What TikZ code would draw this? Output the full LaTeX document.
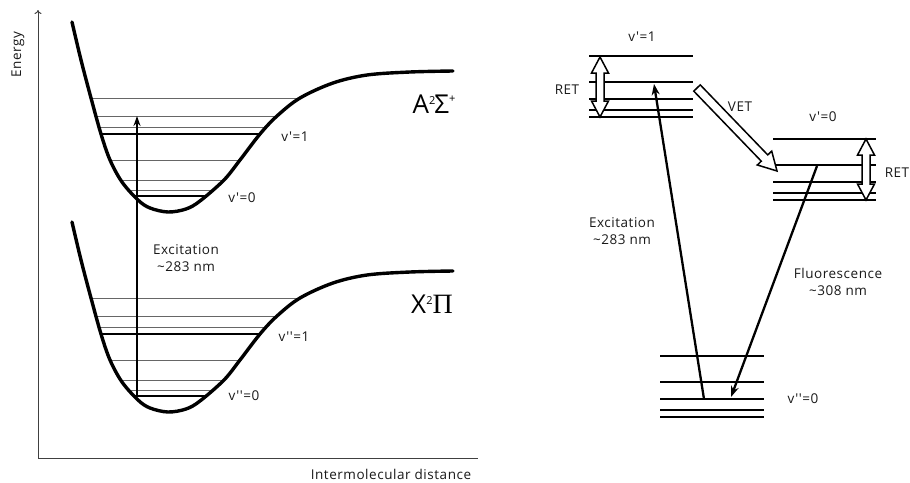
\documentclass[tikz,border=0pt]{standalone}
\usepackage{fontspec}
\setmainfont{Open Sans}[Ligatures=TeXOff, LetterSpace=4]
\newfontfamily\serifgr{Liberation Serif}
\usetikzlibrary{calc,arrows.meta}
\begin{document}
\begin{tikzpicture}[x=1pt,y=-1pt,
  pot/.style={line width=3.4pt, line join=round, line cap=round},
  thinlvl/.style={line width=0.9pt, black!60},
  thicklvl/.style={line width=2.4pt, black},
  lvl/.style={line width=2.4pt, black},
  axis/.style={line width=1pt, black!75},
  trans/.style={line width=2.3pt, -{Stealth[length=11pt,width=8pt]}},
  hollow/.style={draw, line width=1.5pt, fill=white, line join=miter},
  lab/.style={font=\fontsize{13.5}{17}\selectfont, text=black!90, inner sep=0pt, align=center},
  biglab/.style={font=\fontsize{26}{30}\selectfont, text=black, inner sep=0pt}]
\useasboundingbox (0,0) rectangle (910,482);
\def\wellpts{(72,22) (81,60) (91,98) (101,134) (110,160) (122,182) (138,200) (150,208) (168,212) (186,209) (200,201) (224,180) (240,160) (260,134) (277,116) (300,98) (333,83) (367,75) (410,72) (453,71)}

% axes
\coordinate (org) at (38,458);
\coordinate (ytop) at (38,10);
\coordinate (xend) at (478,458);
\draw[axis, -{To[length=4pt,width=7pt]}] (org) -- (ytop);
\draw[axis] (org) -- (xend);
\node[lab, rotate=90] (energy) at (18,55) {Energy};
\node[lab] (dist) at (391,474) {Intermolecular distance};

% upper well
\begin{scope}
  \clip plot[smooth, tension=0.55] coordinates {\wellpts} -- cycle;
  \foreach \y in {98,116,127,160,180,190} \draw[thinlvl] (60,\y) -- (470,\y);
  \foreach \y in {134,196} \draw[thicklvl] (60,\y) -- (470,\y);
\end{scope}
\draw[pot] plot[smooth, tension=0.55] coordinates {\wellpts};

% lower well
\begin{scope}[yshift=-200pt]
  \begin{scope}
    \clip plot[smooth, tension=0.55] coordinates {\wellpts} -- cycle;
    \foreach \y in {98,116,127,160,180,190} \draw[thinlvl] (60,\y) -- (470,\y);
    \foreach \y in {134,196} \draw[thicklvl] (60,\y) -- (470,\y);
  \end{scope}
  \draw[pot] plot[smooth, tension=0.55] coordinates {\wellpts};
\end{scope}

\node[lab] (v1u) at (295,137) {v'=1};
\node[lab] (v0u) at (242,198) {v'=0};
\node[lab] (v1l) at (294,337) {v''=1};
\node[lab] (v0l) at (244,396) {v''=0};
\node[biglab] (Astate) at (434,104) {A\raisebox{9pt}{\fontsize{11}{11}\selectfont 2}\kern-1pt Σ\raisebox{11pt}{\fontsize{11}{11}\selectfont +}};
\node[biglab] (Xstate) at (432,304) {X\raisebox{9pt}{\fontsize{11}{11}\selectfont 2}{\serifgr\fontsize{28}{30}\selectfont Π}};

% left excitation
\coordinate (lexS) at (137,396);
\coordinate (lexE) at (137,116);
\draw[line width=2.3pt, -{Stealth[length=10pt,width=7pt]}] (lexS) -- (lexE);
\node[lab] (lexc) at (186,258) {Excitation\\\textasciitilde283 nm};

% right diagram levels
\foreach \y in {56,82,99,110,117} \draw[lvl] (589,\y) -- (693,\y);
\foreach \y in {139,165,182,193,200} \draw[lvl] (773,\y) -- (876,\y);
\foreach \y in {356,382,399,410,417} \draw[lvl] (660,\y) -- (764,\y);

% RET double arrows
\draw[hollow] (600,57) -- (608.5,73) -- (604,73) -- (604,101) -- (608.5,101) -- (600,117) -- (591.5,101) -- (596,101) -- (596,73) -- (591.5,73) -- cycle;
\draw[hollow] (866,139) -- (874.5,155) -- (870,155) -- (870,184) -- (874.5,184) -- (866,200) -- (857.5,184) -- (862,184) -- (862,155) -- (857.5,155) -- cycle;

% VET arrow
\coordinate (vt) at (697,88);
\coordinate (vh) at (777,171);
\coordinate (vhb) at ($(vh)!18pt!(vt)$);
\draw[hollow] ($(vt)!4.5pt!90:(vh)$) -- ($(vhb)!4.5pt!90:(vh)$) -- ($(vhb)!10pt!90:(vh)$) -- (vh) -- ($(vhb)!10pt!-90:(vh)$) -- ($(vhb)!4.5pt!-90:(vh)$) -- ($(vt)!4.5pt!-90:(vh)$) -- cycle;

% transitions
\coordinate (exS) at (704,399);
\coordinate (exE) at (654,84);
\coordinate (flS) at (817,166);
\coordinate (flE) at (731,397);
\draw[trans] (exS) -- (exE);
\draw[trans] (flS) -- (flE);

\node[lab] (rv1) at (642,37) {v'=1};
\node[lab] (rv0) at (823,117) {v'=0};
\node[lab] (rv00) at (803,399) {v''=0};
\node[lab] (ret1) at (567,90) {RET};
\node[lab] (ret2) at (897,173) {RET};
\node[lab] (vet) at (740,107) {VET};
\node[lab] (rexc) at (622,231) {Excitation\\\textasciitilde283 nm};
\node[lab] (rfl) at (838,282) {Fluorescence\\\textasciitilde308 nm};
\end{tikzpicture}
\end{document}
